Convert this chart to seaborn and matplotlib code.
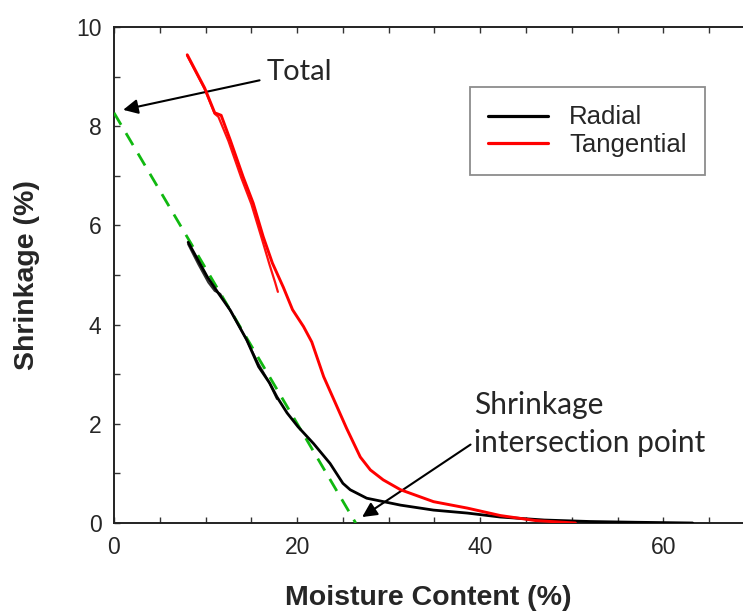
import numpy as np
import pandas as pd
import matplotlib
matplotlib.use("Agg")
import matplotlib.pyplot as plt
from matplotlib.ticker import MultipleLocator
import seaborn as sns

# Radial shrinkage vs moisture content (main trace and short overlapping trace)
radial_mc = [8.1, 10.2, 11.3, 12.7, 14.5, 15.8, 17.0, 17.8, 18.9, 20.1, 20.8, 21.8,
             23.6, 25.0, 25.8, 27.6, 31.3, 34.9, 38.6, 42.2, 47.0, 52.0, 57.0, 63.2]
radial_sh = [5.66, 4.96, 4.66, 4.29, 3.69, 3.15, 2.82, 2.54, 2.22, 1.94, 1.80, 1.60,
             1.20, 0.80, 0.67, 0.50, 0.36, 0.26, 0.20, 0.12, 0.06, 0.03, 0.015, 0.0]
radial2_mc = [8.1, 9.2, 10.3, 11.0, 11.6, 12.9, 14.4, 15.8, 16.9, 17.8]
radial2_sh = [5.62, 5.22, 4.85, 4.68, 4.62, 4.22, 3.72, 3.20, 2.85, 2.50]

# Tangential shrinkage vs moisture content
tang_mc = [8.0, 9.9, 11.0, 11.7, 12.7, 14.1, 15.2, 16.3, 17.3, 18.5, 19.5, 20.7,
           21.6, 22.9, 24.2, 25.4, 26.9, 28.0, 29.4, 31.3, 34.9, 38.6, 42.2, 46.0, 50.4]
tang_sh = [9.44, 8.77, 8.27, 8.22, 7.72, 6.98, 6.45, 5.77, 5.24, 4.75, 4.30, 3.96,
           3.65, 2.95, 2.41, 1.91, 1.33, 1.07, 0.87, 0.67, 0.43, 0.30, 0.15, 0.05, 0.0]
tang2_mc = [8.0, 9.9, 11.0, 11.4, 12.5, 13.9, 15.0, 16.1, 17.0, 17.6, 17.9]
tang2_sh = [9.42, 8.75, 8.25, 8.19, 7.70, 6.96, 6.43, 5.76, 5.20, 4.85, 4.66]

# Linear extrapolation of the radial curve to the axes
fit_mc = [0.0, 26.4]
fit_sh = [8.27, 0.0]

sns.set_style("ticks")
plt.rcParams["font.family"] = ["Liberation Sans", "DejaVu Sans"]

fig = plt.figure(figsize=(7.43, 6.15), dpi=100)
ax = fig.add_axes([114 / 743, 1 - 523 / 615, 1 - 114 / 743, (523 - 27) / 615])

radial = pd.DataFrame({"mc": radial_mc, "sh": radial_sh})
radial2 = pd.DataFrame({"mc": radial2_mc, "sh": radial2_sh})
tang = pd.DataFrame({"mc": tang_mc, "sh": tang_sh})
tang2 = pd.DataFrame({"mc": tang2_mc, "sh": tang2_sh})
fit = pd.DataFrame({"mc": fit_mc, "sh": fit_sh})

sns.lineplot(data=fit, x="mc", y="sh", ax=ax, color="#10b810", lw=2.0,
             sort=False, estimator=None, zorder=3)
ax.lines[-1].set_dashes([5, 3.5])
sns.lineplot(data=tang2, x="mc", y="sh", ax=ax, color="#ff1010", lw=1.6,
             sort=False, estimator=None, zorder=2)
sns.lineplot(data=radial2, x="mc", y="sh", ax=ax, color="#303030", lw=1.5,
             sort=False, estimator=None, zorder=2)
sns.lineplot(data=radial, x="mc", y="sh", ax=ax, color="black", lw=2.0,
             sort=False, estimator=None, zorder=4, label="Radial")
sns.lineplot(data=tang, x="mc", y="sh", ax=ax, color="#ff0000", lw=2.1,
             sort=False, estimator=None, zorder=4, label="Tangential")

ax.set_xlim(0, 68.7)
ax.set_ylim(0, 10)
ax.xaxis.set_major_locator(MultipleLocator(20))
ax.xaxis.set_minor_locator(MultipleLocator(5))
ax.yaxis.set_major_locator(MultipleLocator(2))
ax.yaxis.set_minor_locator(MultipleLocator(1))
ax.tick_params(which="both", direction="in", length=4, width=1.0, color="#333333",
               top=True, right=False, labelsize=16.5, pad=9)
for side in ("left", "bottom", "top"):
    ax.spines[side].set_linewidth(1.4)
    ax.spines[side].set_color("#222222")
ax.spines["right"].set_visible(False)

ax.set_xlabel("Moisture Content (%)", fontsize=20.5, fontweight="bold")
ax.set_ylabel("Shrinkage (%)", fontsize=20.5, fontweight="bold")
ax.xaxis.set_label_coords(0.5, -0.125)
ax.yaxis.set_label_coords(-0.118, 0.5)

leg = ax.legend(loc="upper right", bbox_to_anchor=(705 / 743, 1 - 87 / 615),
                bbox_transform=fig.transFigure, borderaxespad=0, fontsize=18.5,
                frameon=True, fancybox=False, handlelength=2.35, handletextpad=0.8,
                labelspacing=0.12, borderpad=0.72, edgecolor="#707070")
leg.get_frame().set_linewidth(1.3)
for h in leg.get_lines():
    h.set_linewidth(2.3)

anno_font = ["Lato", "DejaVu Sans"]
ax.annotate("Total", xy=(1.0, 8.33), xytext=(16.7, 9.1), fontsize=21,
            family=anno_font, va="center", ha="left",
            arrowprops=dict(arrowstyle="-|>", color="black", lw=1.5,
                            mutation_scale=22, shrinkA=3, shrinkB=0))
ax.annotate("Shrinkage\nintersection point", xy=(27.1, 0.12), xytext=(39.3, 2.0),
            fontsize=21.5, family=anno_font, va="center", ha="left", linespacing=1.45,
            arrowprops=dict(arrowstyle="-|>", color="black", lw=1.5,
                            mutation_scale=22, shrinkA=0, shrinkB=0,
                            relpos=(0.0, 0.22)))

fig.savefig("out.png", dpi=100)
